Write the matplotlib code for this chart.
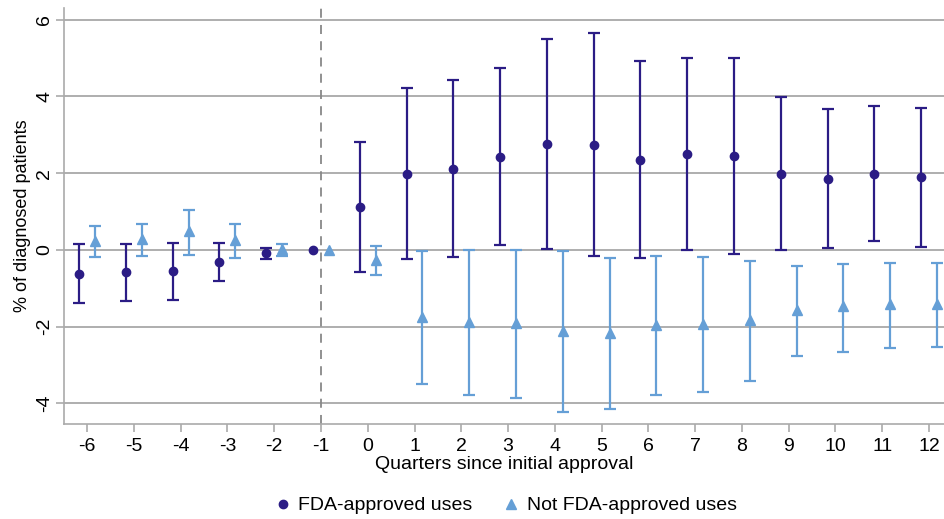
import matplotlib
matplotlib.use('Agg')
import matplotlib.pyplot as plt
import numpy as np

plt.rcParams['font.family'] = ['Liberation Sans', 'DejaVu Sans']
plt.rcParams['axes.unicode_minus'] = False

quarters = np.arange(-6, 13)

# FDA-approved uses: estimate and 95% CI
fda_est = [-0.63, -0.58, -0.56, -0.32, -0.09, 0.0, 1.11, 1.99, 2.10, 2.43,
           2.76, 2.74, 2.35, 2.50, 2.44, 1.98, 1.84, 1.99, 1.90]
fda_lo = [-1.39, -1.33, -1.30, -0.81, -0.23, 0.0, -0.59, -0.24, -0.19, 0.12,
          0.03, -0.16, -0.22, 0.0, -0.10, -0.01, 0.04, 0.23, 0.08]
fda_hi = [0.16, 0.16, 0.18, 0.18, 0.04, 0.0, 2.82, 4.22, 4.42, 4.75,
          5.49, 5.64, 4.92, 5.01, 4.99, 3.98, 3.67, 3.76, 3.70]

# Not FDA-approved uses
off_est = [0.24, 0.29, 0.50, 0.26, 0.02, 0.0, -0.26, -1.76, -1.89, -1.91,
           -2.11, -2.16, -1.96, -1.93, -1.83, -1.56, -1.46, -1.41, -1.41]
off_lo = [-0.19, -0.16, -0.14, -0.20, -0.16, 0.0, -0.65, -3.50, -3.78, -3.87,
          -4.22, -4.14, -3.79, -3.71, -3.42, -2.76, -2.65, -2.55, -2.52]
off_hi = [0.63, 0.68, 1.05, 0.68, 0.14, 0.0, 0.10, -0.04, -0.01, 0.0,
          -0.03, -0.21, -0.17, -0.19, -0.28, -0.43, -0.36, -0.33, -0.35]

navy = '#2b1c85'
light = '#659fd6'
grid_col = '#a8a8a8'
axis_col = '#aaaaaa'

fig = plt.figure(figsize=(9.44, 5.19), dpi=100)
ax = fig.add_axes([0.068, 0.183, 0.932, 0.802])

for y in [-4, -2, 0, 2, 4, 6]:
    ax.axhline(y, color=grid_col, lw=1.3, zorder=0)
ax.axvline(-1, color='#888888', lw=1.3, ls=(0, (5, 4)), zorder=0)

def draw(est, lo, hi, dx, color, marker, ms, label):
    est = np.array(est)
    yerr = np.vstack([est - np.array(lo), np.array(hi) - est])
    has_ci = (yerr.sum(axis=0) > 0)
    x = quarters + dx
    ax.errorbar(x[has_ci], est[has_ci], yerr=yerr[:, has_ci], fmt='none',
                ecolor=color, elinewidth=1.6, capsize=4, capthick=1.6, zorder=2)
    ax.plot(x, est, ls='none', marker=marker, ms=ms, color=color,
            label=label, zorder=3)

draw(fda_est, fda_lo, fda_hi, -0.17, navy, 'o', 6, 'FDA-approved uses')
draw(off_est, off_lo, off_hi, 0.17, light, '^', 7.5, 'Not FDA-approved uses')

ax.set_xlim(-6.49, 12.32)
ax.set_ylim(-4.54, 6.31)
ax.set_xticks(quarters)
ax.set_yticks([-4, -2, 0, 2, 4, 6])
ax.tick_params(axis='both', colors=axis_col, labelcolor='black', length=6,
               width=1.2, labelsize=14, pad=4)
ax.tick_params(axis='y', pad=2)
for lab in ax.get_yticklabels():
    lab.set_rotation(90)
    lab.set_va('center')
for side in ['top', 'right']:
    ax.spines[side].set_visible(False)
for side in ['left', 'bottom']:
    ax.spines[side].set_color(axis_col)
    ax.spines[side].set_linewidth(1.2)

ax.set_xlabel('Quarters since initial approval', fontsize=14, labelpad=1)
ax.set_ylabel('% of diagnosed patients', fontsize=13, labelpad=4)

fig.legend(loc='lower center', ncol=2, frameon=False, fontsize=14,
           bbox_to_anchor=(0.535, -0.025), handletextpad=0.3, columnspacing=1.5,
           handlelength=1.0)

fig.savefig('out.png', dpi=100)
